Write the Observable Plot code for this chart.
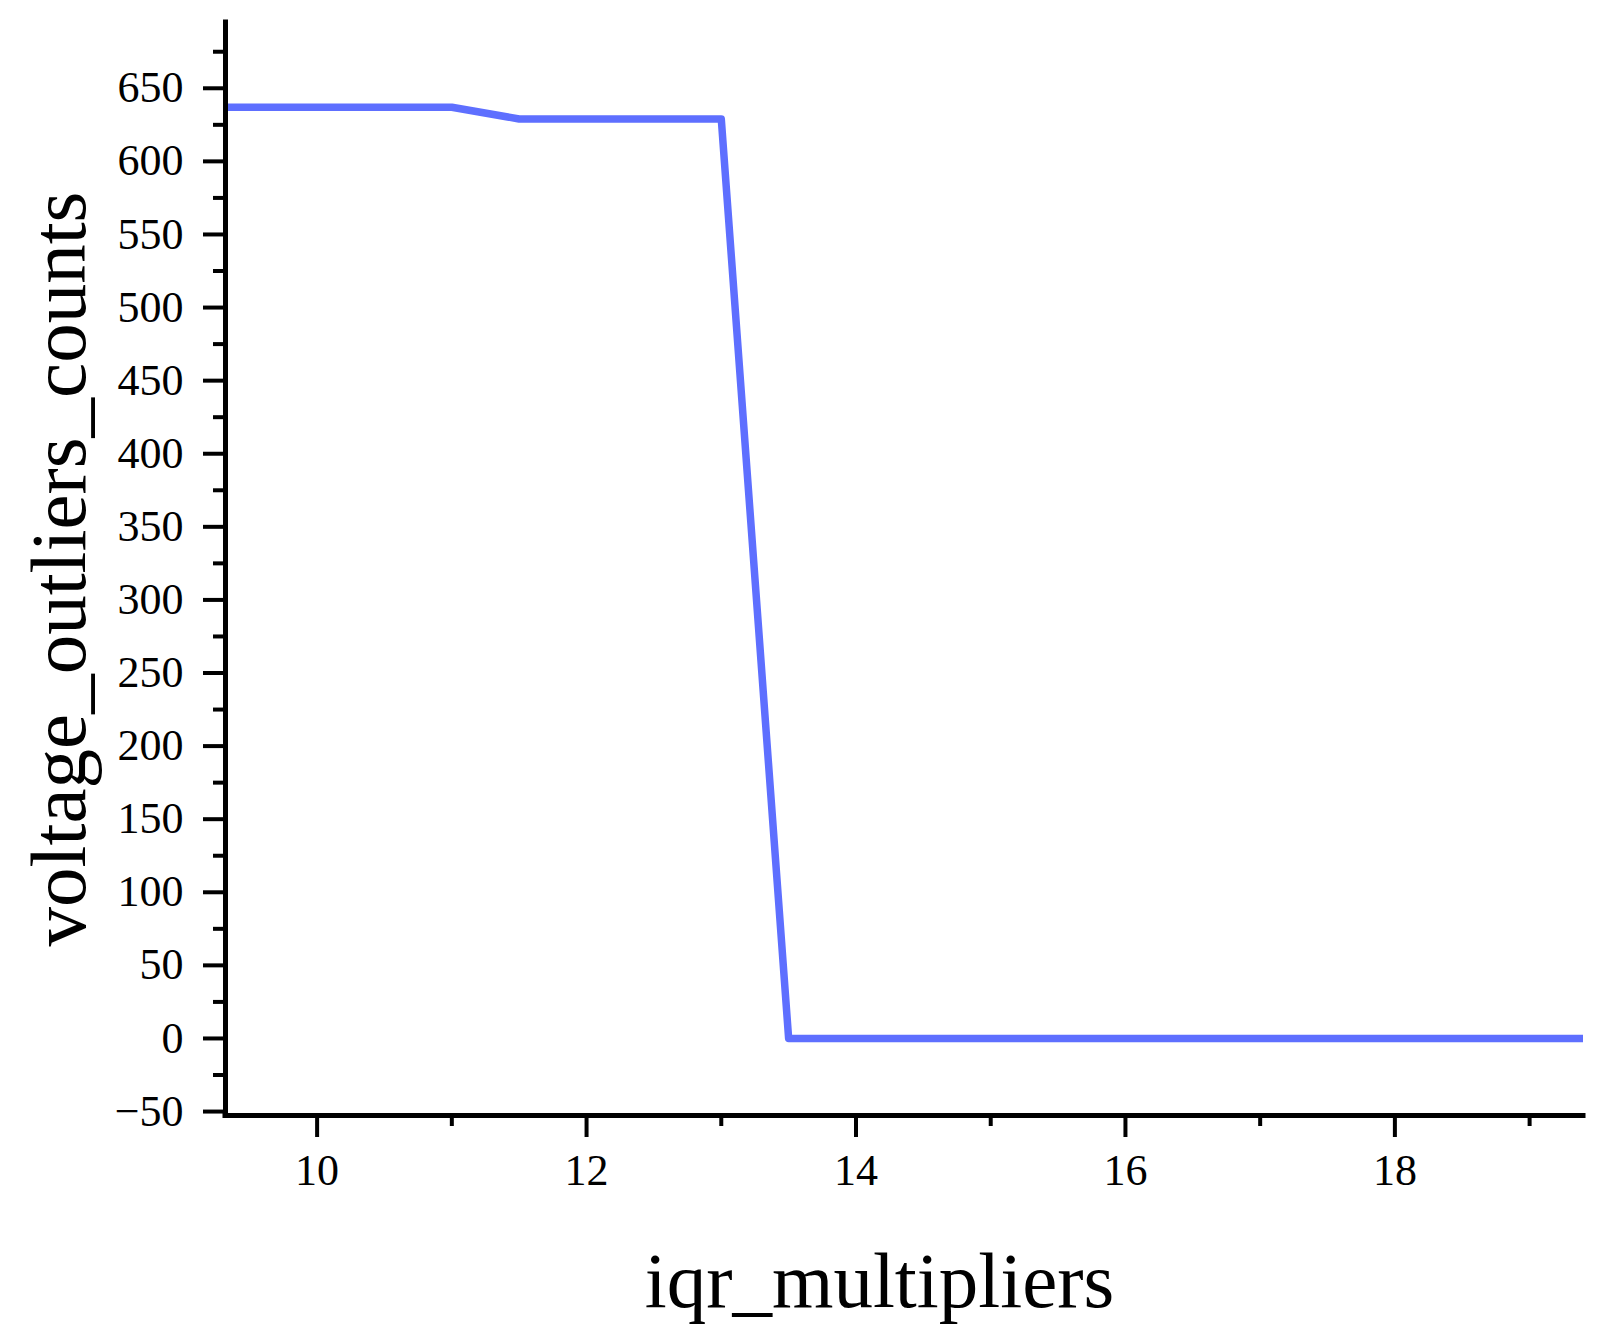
<!DOCTYPE html>
<html><head><meta charset="utf-8">
<script src="https://cdn.jsdelivr.net/npm/d3@7"></script>
<script src="https://cdn.jsdelivr.net/npm/@observablehq/plot@0.6"></script>
<style>html,body{margin:0;padding:0;background:#fff}</style>
</head><body><div id="chart"></div>
<script>
// Data
const iqrMultipliers = [9.0, 9.5, 10.0, 10.5, 11.0, 11.5, 12.0, 12.5, 13.0, 13.5, 14.0, 14.5, 15.0, 15.5, 16.0, 16.5, 17.0, 17.5, 18.0, 18.5, 19.0, 19.5];
const voltageOutlierCounts = [637, 637, 637, 637, 637, 629, 629, 629, 629, 0, 0, 0, 0, 0, 0, 0, 0, 0, 0, 0, 0, 0];
const xMajorTicks = [10, 12, 14, 16, 18];
const xMinorTicks = [11, 13, 15, 17, 19];
const yMajorTicks = [-50, 0, 50, 100, 150, 200, 250, 300, 350, 400, 450, 500, 550, 600, 650];
const yMinorTicks = [-25, 25, 75, 125, 175, 225, 275, 325, 375, 425, 475, 525, 575, 625, 675];
const xDomain = [9.32, 19.40];
const yDomain = [-52.7, 695];
const xLabel = "iqr_multipliers";
const yLabel = "voltage_outliers_counts";

const data = iqrMultipliers.map((x, i) => ({x, y: voltageOutlierCounts[i]}));

const chart = Plot.plot({
  width: 1604,
  height: 1342,
  marginLeft: 225,
  marginRight: 21,
  marginTop: 22,
  marginBottom: 227,
  style: {fontFamily: "'Liberation Serif', 'Times New Roman', serif", fontSize: "44px", color: "#000", background: "#fff", overflow: "visible"},
  x: {domain: xDomain},
  y: {domain: yDomain},
  marks: [
    Plot.line(data, {x: "x", y: "y", stroke: "#5e6fff", strokeWidth: 7.5, clip: true}),
    Plot.axisY(yMajorTicks, {anchor: "left", tickSize: 22, tickPadding: 20, strokeWidth: 4, fontSize: 44,
      tickFormat: d3.format("d"), label: yLabel, labelAnchor: "center", labelArrow: "none", labelOffset: 197}),
    Plot.axisY(yMinorTicks, {anchor: "left", tickSize: 12, strokeWidth: 4, tickFormat: () => "", label: null}),
    Plot.axisX(xMajorTicks, {anchor: "bottom", tickSize: 22, tickPadding: 16, strokeWidth: 4, fontSize: 44,
      tickFormat: d3.format("d"), label: xLabel, labelAnchor: "center", labelArrow: "none", labelOffset: 191}),
    Plot.axisX(xMinorTicks, {anchor: "bottom", tickSize: 11, strokeWidth: 4, tickFormat: () => "", label: null}),
    Plot.ruleX([xDomain[0]], {stroke: "#000", strokeWidth: 5, strokeLinecap: "square"}),
    Plot.ruleY([yDomain[0]], {stroke: "#000", strokeWidth: 5, strokeLinecap: "square"})
  ]
});

d3.select(chart).selectAll('[aria-label="x-axis label"] text, [aria-label="y-axis label"] text')
  .style("font-size", "79px");
d3.select(chart).selectAll('[aria-label="x-axis label"]').each(function() {
  const t = this.getAttribute("transform") || "";
  this.setAttribute("transform", "translate(-25,0) " + t);
});
document.getElementById("chart").appendChild(chart);
</script>
</body></html>
